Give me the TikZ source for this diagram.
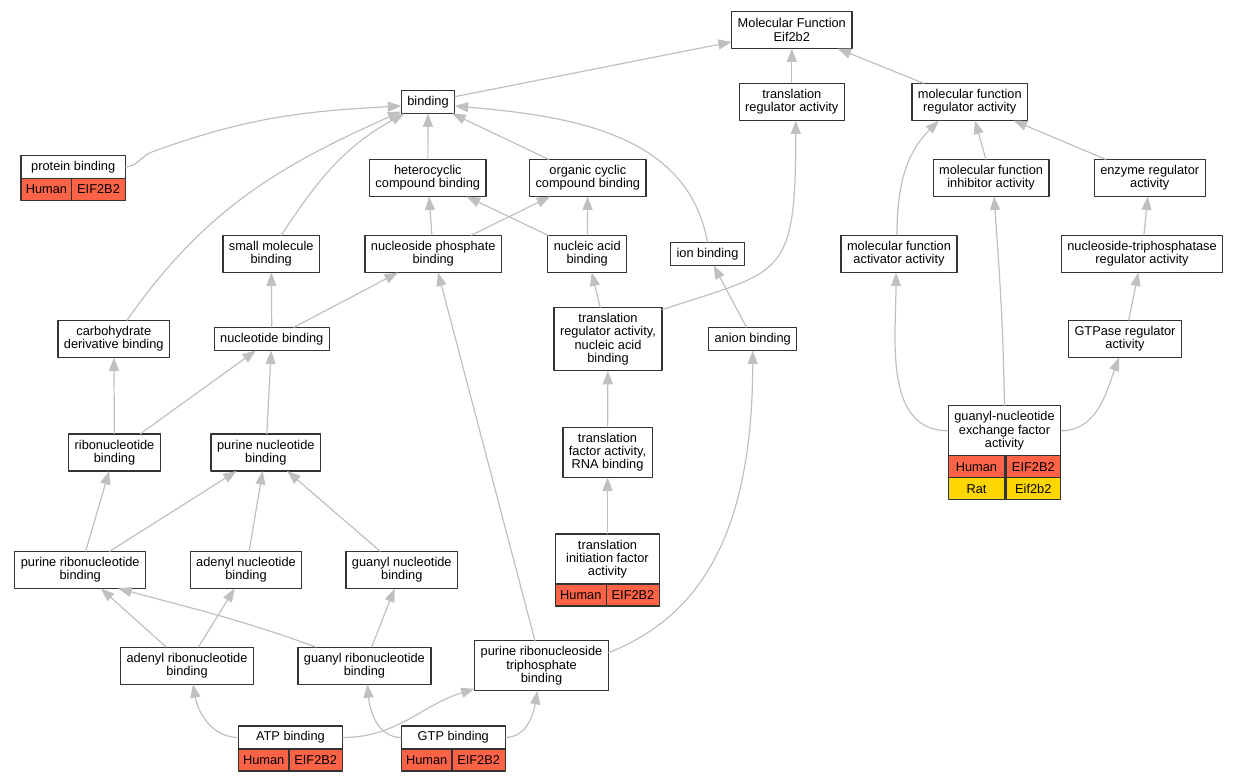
\documentclass[tikz,border=0pt]{standalone}
\usepackage{fontspec}
\setmainfont{Liberation Sans}
\usetikzlibrary{arrows.meta}
\definecolor{tomato}{RGB}{255,99,71}
\definecolor{gold}{RGB}{255,215,0}
\definecolor{edgegray}{RGB}{192,192,192}
\begin{document}
\begin{tikzpicture}[x=1pt, y=1pt, font=\fontsize{12.8}{13.3}\selectfont, line join=round,
	>={Triangle[length=13.5pt,width=10pt]},
	term/.style={draw=black!80, line width=1.3pt, fill=white, outer sep=0pt, inner xsep=6pt, inner ysep=0pt, align=center},
	term1/.style={term, minimum height=23pt},
	term2/.style={term, minimum height=37pt},
	term3/.style={term, minimum height=50pt},
	term4/.style={term, minimum height=63pt},
	cell/.style={draw=black!80, line width=1.3pt, outer sep=0pt, inner sep=0pt, minimum height=22pt},
	human/.style={cell, fill=tomato},
	rat/.style={cell, fill=gold},
	isa/.style={draw=edgegray, line width=1.2pt, ->}]
	\useasboundingbox (0,0) rectangle (1237,781);
	% top
	\node[term2] (mf) at (791.8,751) {Molecular Function\\Eif2b2};
	\node[term2] (tra) at (791.8,679) {translation\\regulator activity};
	\node[term2] (mfr) at (969.8,679) {molecular function\\regulator activity};
	\node[term1] (bind) at (428,679) {binding};
	% second row
	\node[term1, minimum width=104.3pt] (pb) at (73.2,614.2) {protein binding};
	\node[term2] (het) at (427.8,603) {heterocyclic\\compound binding};
	\node[term2] (occ) at (587.8,603) {organic cyclic\\compound binding};
	\node[term2] (mfi) at (991.1,603) {molecular function\\inhibitor activity};
	\node[term2] (enz) at (1149.7,603) {enzyme regulator\\activity};
	% third row
	\node[term2] (smb) at (271.2,527) {small molecule\\binding};
	\node[term2] (npb) at (433.2,527) {nucleoside phosphate\\binding};
	\node[term2] (nab) at (587.2,527) {nucleic acid\\binding};
	\node[term1] (ion) at (707.5,527) {ion binding};
	\node[term2] (mfa) at (899,527) {molecular function\\activator activity};
	\node[term2] (ntp) at (1142,527) {nucleoside-triphosphatase\\regulator activity};
	% fourth row
	\node[term2] (cdb) at (113.8,442) {carbohydrate\\derivative binding};
	\node[term1] (nucb) at (271.8,442) {nucleotide binding};
	\node[term4] (trnab) at (608,441.7) {translation\\regulator activity,\\nucleic acid\\binding};
	\node[term1] (anion) at (752.7,442) {anion binding};
	\node[term2] (gtpase) at (1125,442) {GTPase regulator\\activity};
	% fifth row
	\node[term2] (rib) at (114.5,328.5) {ribonucleotide\\binding};
	\node[term2] (pnb) at (265.8,328.5) {purine nucleotide\\binding};
	\node[term3] (tfa) at (607.5,328.7) {translation\\factor activity,\\RNA binding};
	\node[term3, minimum width=111pt] (gnef) at (1004.5,350.2) {guanyl-nucleotide\\exchange factor\\activity};
	% sixth row
	\node[term2] (prb) at (80.2,211) {purine ribonucleotide\\binding};
	\node[term2] (anb) at (246,211) {adenyl nucleotide\\binding};
	\node[term2] (gnb) at (401.8,211) {guanyl nucleotide\\binding};
	\node[term3, minimum width=104.3pt] (tifa) at (607.5,222) {translation\\initiation factor\\activity};
	% seventh row
	\node[term2] (arb) at (187,115.3) {adenyl ribonucleotide\\binding};
	\node[term2] (grb) at (364.4,115.3) {guanyl ribonucleotide\\binding};
	\node[term3] (prtb) at (541.5,115.2) {purine ribonucleoside\\triphosphate\\binding};
	% bottom
	\node[term1, minimum width=104pt] (atp) at (290.4,43.5) {ATP binding};
	\node[term1, minimum width=104pt] (gtp) at (453.3,43.5) {GTP binding};
	% gene cells
	\foreach \nm/\wa/\wb in {pb/50.7/53.6, tifa/51/53.3, atp/50.6/53.4, gtp/50.7/53.3, gnef/56.3/54.7}{
		\node[human, minimum width=\wa pt, anchor=north west] (\nm-h) at (\nm.south west) {Human};
		\node[human, minimum width=\wb pt, anchor=north east] (\nm-g) at (\nm.south east) {EIF2B2};
	}
	\node[rat, minimum width=56.3pt, anchor=north west] (gnef-r) at (gnef-h.south west) {Rat};
	\node[rat, minimum width=54.7pt, anchor=north east] (gnef-s) at (gnef-g.south east) {Eif2b2};
	% straight edges
	\foreach \a/\b in {bind/mf, tra/mf, mfr/mf, het/bind, occ/bind, npb/het, npb/occ, nab/het, nab/occ,
		nucb/smb, nucb/npb, trnab/nab, anion/ion, rib/cdb, rib/nucb, pnb/nucb, prb/rib, prb/pnb,
		anb/pnb, gnb/pnb, arb/prb, arb/anb, grb/gnb, prtb/npb, tfa/trnab, tifa/tfa,
		mfi/mfr, enz/mfr, ntp/enz, gtpase/ntp}
		\draw[isa] (\a) -- (\b);
	% curved edges
	\draw[isa] (pb.east) to[out=0,in=200] ++(27,15) to[out=20,in=183] ([yshift=-4pt]bind.west);
	\draw[isa] ([xshift=10pt]smb.north) to[out=57,in=209] ([xshift=3pt]bind.south west);
	\draw[isa] ([xshift=13pt]cdb.north) to[out=55,in=204] ([yshift=2pt]bind.south west);
	\draw[isa] (ion.north) to[out=100,in=-5] ([yshift=-4pt]bind.east);
	\draw[isa] ([yshift=-2pt]trnab.north east) .. controls +(120,40) and +(0,-160) .. ([xshift=4pt]tra.south);
	\draw[isa] ([yshift=13pt]prtb.east) .. controls +(80,32) and +(0,-200) .. (anion.south);
	\draw[isa] ([xshift=-48pt]grb.north) to[out=160,in=-15] ([xshift=38pt]prb.south);
	\draw[isa] (atp.west) to[out=180,in=-80] ([xshift=6pt]arb.south);
	\draw[isa] (atp.east) to[out=0,in=197] ([yshift=2pt]prtb.south west);
	\draw[isa] (gtp.west) to[out=180,in=-85] ([xshift=3pt]grb.south);
	\draw[isa] (gtp.east) to[out=0,in=-100] ([xshift=-4pt]prtb.south);
	\draw[isa] ([xshift=-2pt]mfa.north) to[out=90,in=225] ([xshift=27pt]mfr.south west);
	\draw[isa] (gnef.west) to[out=180,in=-90] ([xshift=-3pt]mfa.south);
	\draw[isa] (gnef.north) to[out=91,in=-86] ([xshift=3pt]mfi.south);
	\draw[isa] (gnef.east) to[out=0,in=-110] ([xshift=-6pt]gtpase.south);
\end{tikzpicture}
\end{document}
